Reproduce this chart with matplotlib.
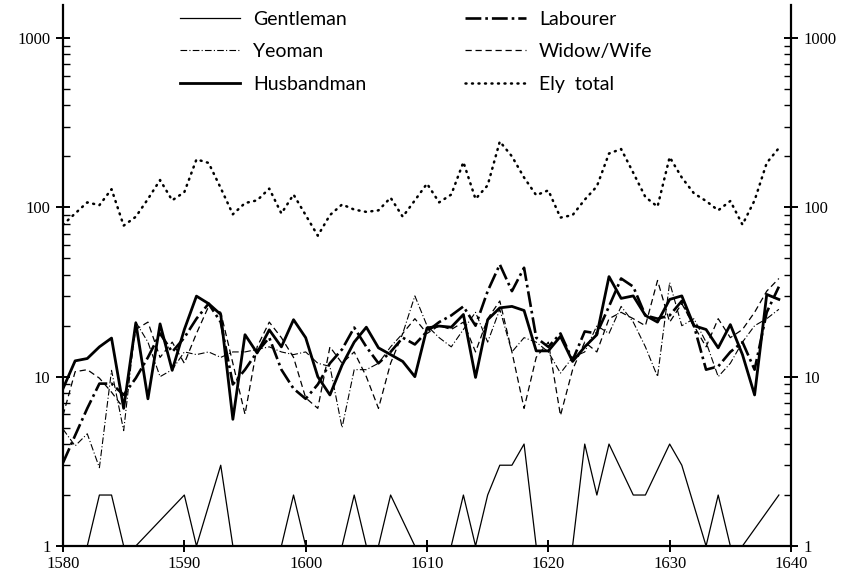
import numpy as np
import matplotlib
matplotlib.use("Agg")
import matplotlib.pyplot as plt
from matplotlib.ticker import FixedLocator, LogLocator, NullFormatter, FixedFormatter

# years 1580-1639, one value per year
years = np.arange(1580, 1640)

# Gentleman: only the turning points (flat runs sit on the 1 line)
gent_years = [1580, 1582, 1583, 1584, 1585, 1586, 1590, 1591, 1593, 1594, 1598, 1599,
              1600, 1603, 1604, 1605, 1606, 1607, 1609, 1612, 1613, 1614, 1615, 1616,
              1617, 1618, 1619, 1622, 1623, 1624, 1625, 1627, 1628, 1630, 1631, 1633,
              1634, 1635, 1636, 1639]
gent_vals = [1, 1, 2, 2, 1, 1, 2, 1, 3, 1, 1, 2,
             1, 1, 2, 1, 1, 2, 1, 1, 2, 1, 2, 3,
             3, 4, 1, 1, 4, 2, 4, 2, 2, 4, 3, 1,
             2, 1, 1, 2]

yeoman = [4.9, 3.9, 4.6, 2.9, 10.9, 4.8, 21, 16, 10, 11,
          14, 13.5, 14, 13, 14, 14, 14.5, 15, 14, 13.5,
          14, 12, 11.5, 5, 11, 11, 12, 15, 18, 30,
          20, 17, 15, 19, 24, 16, 25, 14, 17, 16,
          14, 10.5, 13, 14, 20, 18, 26, 21, 15, 10,
          36, 20, 22, 16, 10, 12, 16, 20, 22, 25]

husbandman = [8.5, 12.4, 12.8, 15, 16.9, 6.5, 20.8, 7.4, 20.5, 10.9,
              19, 29.9, 27, 23.3, 5.6, 17.7, 13.8, 18.9, 15, 21.7,
              17, 10, 7.8, 11.7, 16, 19.6, 14.8, 13.5, 12.3, 10,
              19.4, 19.9, 19.6, 23.3, 9.9, 21.7, 25.5, 26, 24.6, 14.2,
              14.2, 17.3, 12.3, 15, 17.7, 39, 29, 30, 23, 21,
              28.6, 30, 20, 19, 14.8, 20.3, 13.5, 7.8, 30.6, 28.6]

labourer = [3.1, 4.5, 6.5, 9.1, 9.1, 7.8, 9.8, 13, 18, 14,
            17, 22, 27, 21, 9, 11, 14, 17, 11, 8.5,
            7.4, 9, 12, 14.5, 19.5, 15, 12, 14, 17, 15.5,
            18.5, 21, 23, 26, 20, 32, 46, 32, 44, 17,
            15, 18, 12.5, 18.5, 18, 26, 38, 34, 23, 22,
            23, 28, 20, 11, 11.5, 14, 16, 11, 24, 34]

widow = [5.9, 10.7, 11, 9.8, 8.1, 6.5, 19, 21, 13, 16,
         12, 18, 26, 24, 12, 6, 15, 21, 17, 13,
         7.5, 6.5, 15, 12, 14, 10, 6.5, 12, 18, 22,
         18, 20, 19, 21, 14, 22, 28, 14, 6.5, 13,
         16, 5.9, 11, 16, 14, 22, 24, 22, 20, 37,
         21, 27, 20, 15, 22, 17, 19, 24, 32, 38]

ely_total = [79, 92, 107, 103, 128, 78, 88, 112, 145, 110,
             123, 192, 183, 130, 91, 106, 110, 129, 92, 119,
             90, 68, 90, 104, 97, 94, 96, 114, 88, 110,
             138, 107, 119, 185, 112, 135, 245, 200, 150, 118,
             126, 87, 90, 111, 133, 208, 221, 160, 115, 101,
             198, 150, 121, 109, 96, 109, 79, 110, 183, 224]

fig = plt.figure(figsize=(8.46, 5.74), dpi=100)
ax = fig.add_axes([63 / 846, 28 / 574, 728 / 846, 541 / 574])

ax.plot(gent_years, gent_vals, color="black", lw=0.9, label="Gentleman")
ax.plot(years, yeoman, color="black", lw=0.8, dashes=(6, 2, 1, 2), label="Yeoman")
ax.plot(years, husbandman, color="black", lw=2.0, label="Husbandman")
ax.plot(years, labourer, color="black", lw=1.9, dashes=(6, 1.5, 1, 1.5), label="Labourer")
ax.plot(years, widow, color="black", lw=0.9, dashes=(5, 3), label="Widow/Wife")
ax.plot(years, ely_total, color="black", lw=1.8, dashes=(0.4, 2.2),
        dash_capstyle="round", label="Ely  total")

ax.set_yscale("log")
ax.set_ylim(1, 1567)
ax.set_xlim(1580, 1640)

ax.spines["top"].set_visible(False)
for s in ["left", "right", "bottom"]:
    ax.spines[s].set_linewidth(1.6)

ax.yaxis.set_major_locator(FixedLocator([1, 10, 100, 1000]))
ax.yaxis.set_major_formatter(FixedFormatter(["1", "10", "100", "1000"]))
ax.yaxis.set_minor_locator(LogLocator(base=10, subs=np.arange(2, 10)))
ax.yaxis.set_minor_formatter(NullFormatter())
ax.set_xticks(range(1580, 1641, 10))

serif = "Liberation Serif"
ax.tick_params(axis="y", which="major", direction="inout", length=10, width=1.4,
               left=True, right=True, labelleft=True, labelright=True, labelsize=12, pad=4)
ax.tick_params(axis="y", which="minor", direction="in", length=5, width=1.0,
               left=True, right=True)
ax.tick_params(axis="x", which="major", direction="inout", length=8, width=1.4,
               labelsize=12, pad=3)
for lab in ax.get_xticklabels() + ax.get_yticklabels():
    lab.set_fontfamily(serif)

leg = ax.legend(ncol=2, loc="upper left", bbox_to_anchor=(0.147, 1.0074), frameon=False,
                borderpad=0, handlelength=3.1, handletextpad=0.67, columnspacing=5.1,
                labelspacing=0.8, prop={"family": "Lato", "size": 14})

fig.savefig("out.png", dpi=100, facecolor="white")
